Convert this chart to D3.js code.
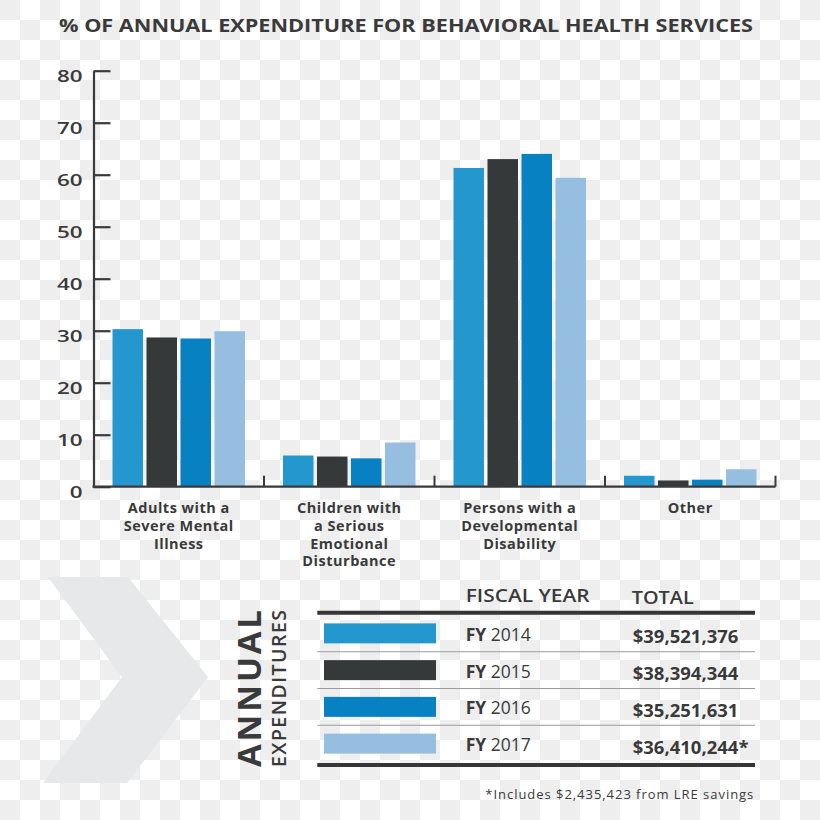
<!DOCTYPE html>
<html>
<head>
<meta charset="utf-8">
<script src="https://cdn.jsdelivr.net/npm/d3@7"></script>
<style>
  html, body { margin: 0; padding: 0; background: #fff; }
  svg { display: block; }
  text { font-family: "Open Sans", "Noto Sans", sans-serif; fill: #3a3a3a; }
</style>
</head>
<body>
<svg id="chart" width="820" height="820"></svg>
<script>
// ---- data ----
const categories = ["Adults with a Severe Mental Illness", "Children with a Serious Emotional Disturbance", "Persons with a Developmental Disability", "Other"];
const categoryLines = [
  ["Adults with a", "Severe Mental", "Illness"],
  ["Children with", "a Serious", "Emotional", "Disturbance"],
  ["Persons with a", "Developmental", "Disability"],
  ["Other"]
];
const years = ["2014", "2015", "2016", "2017"];
const values2014 = [30.3, 6.0, 61.3, 2.1];
const values2015 = [28.7, 5.8, 63.0, 1.2];
const values2016 = [28.5, 5.45, 64.0, 1.35];
const values2017 = [29.9, 8.5, 59.4, 3.35];
const seriesValues = [values2014, values2015, values2016, values2017];
const yTicks = [0, 10, 20, 30, 40, 50, 60, 70, 80];
const totals = ["$39,521,376", "$38,394,344", "$35,251,631", "$36,410,244*"];
const colors = ["#2597cf", "#36393a", "#0781c2", "#96bee1"];
const title = "% OF ANNUAL EXPENDITURE FOR BEHAVIORAL HEALTH SERVICES";
const footnote = "*Includes $2,435,423 from LRE savings";

const svg = d3.select("#chart");

// ---- checkerboard background ----
const defs = svg.append("defs");
const pat = defs.append("pattern").attr("id", "checker")
  .attr("width", 40).attr("height", 40).attr("patternUnits", "userSpaceOnUse");
pat.append("rect").attr("width", 40).attr("height", 40).attr("fill", "#ffffff");
pat.append("rect").attr("x", 0).attr("y", 0).attr("width", 20).attr("height", 20).attr("fill", "#eeeeee");
pat.append("rect").attr("x", 20).attr("y", 20).attr("width", 20).attr("height", 20).attr("fill", "#eeeeee");
svg.append("rect").attr("width", 820).attr("height", 820).attr("fill", "url(#checker)");

// ---- title ----
svg.append("text")
  .attr("x", 59).attr("y", 32.3)
  .attr("font-size", 18.5).attr("font-weight", 700)
  .attr("textLength", 694).attr("lengthAdjust", "spacingAndGlyphs")
  .text(title);

// ---- scales ----
const y = d3.scaleLinear().domain([0, 80]).range([486.7, 70.7]);
const x0 = d3.scaleBand().domain(categories).range([93.5, 775.5]).paddingInner(0).paddingOuter(0);
const x1 = d3.scaleBand().domain(years).range([19, 151.5]).paddingInner(0.103).paddingOuter(0);

// ---- bars ----
const groups = svg.append("g").selectAll("g").data(categories).join("g")
  .attr("transform", d => `translate(${x0(d)},0)`);
groups.selectAll("rect")
  .data((d, ci) => years.map((yr, si) => ({ yr, si, v: seriesValues[si][ci] })))
  .join("rect")
  .attr("x", d => x1(d.yr))
  .attr("width", x1.bandwidth())
  .attr("y", d => y(d.v))
  .attr("height", d => y(0) - y(d.v))
  .attr("fill", d => colors[d.si]);

// ---- y axis ----
const yAxis = d3.axisLeft(y).tickValues(yTicks).tickSizeInner(-17).tickSizeOuter(0).tickPadding(11);
const gy = svg.append("g").attr("transform", "translate(93.5,0)").call(yAxis);
gy.select(".domain").attr("stroke", "#3a3a3a").attr("stroke-width", 2.2);
gy.selectAll(".tick line").attr("stroke", "#3a3a3a").attr("stroke-width", 2.2);
gy.selectAll(".tick text")
  .attr("font-family", "Open Sans, Noto Sans, sans-serif")
  .attr("font-size", 16.5).attr("font-weight", 600).attr("fill", "#3a3a3a")
  .attr("dy", "0.68em")
  .attr("textLength", d => String(d).length * 12.8)
  .attr("lengthAdjust", "spacingAndGlyphs");

// ---- x axis ----
const gx = svg.append("g");
gx.append("line")
  .attr("x1", x0.range()[0] - 1).attr("x2", x0.range()[1])
  .attr("y1", y(0)).attr("y2", y(0))
  .attr("stroke", "#3a3a3a").attr("stroke-width", 2.2);
gx.selectAll("line.sep").data(categories).join("line").attr("class", "sep")
  .attr("x1", d => x0(d) + x0.bandwidth()).attr("x2", d => x0(d) + x0.bandwidth())
  .attr("y1", y(0)).attr("y2", y(0) - 11)
  .attr("stroke", "#3a3a3a").attr("stroke-width", 2);

// ---- category labels (one text per line) ----
const labG = svg.append("g").selectAll("g").data(categories).join("g");
labG.each(function(d, i) {
  const g = d3.select(this);
  categoryLines[i].forEach((line, li) => {
    g.append("text")
      .attr("text-anchor", "middle")
      .attr("font-family", "Lato, Open Sans, sans-serif")
      .attr("font-size", 14.5).attr("font-weight", 700).attr("fill", "#363636")
      .attr("letter-spacing", 0.5)
      .attr("x", x0(d) + x0.bandwidth() / 2)
      .attr("y", 513.3 + li * 17.7)
      .text(line);
  });
});

// ---- chevron ----
svg.append("polygon")
  .attr("points", "48,577 128,577 208,677 127,783 43,783 122,677")
  .attr("fill", "#e7e8e9");

// ---- ANNUAL EXPENDITURES ----
svg.append("text")
  .attr("transform", "translate(261,767) rotate(-90)")
  .attr("font-size", 33).attr("font-weight", 700).attr("fill", "#333")
  .attr("textLength", 157).attr("lengthAdjust", "spacing")
  .text("ANNUAL");
svg.append("text")
  .attr("transform", "translate(285.5,767) rotate(-90)")
  .attr("font-size", 19.5).attr("font-weight", 600).attr("fill", "#333")
  .attr("textLength", 157).attr("lengthAdjust", "spacing")
  .text("EXPENDITURES");

// ---- table ----
const rows = d3.scaleBand().domain(years).range([615, 762]);
const tx0 = 317.3, tx1 = 755;

svg.append("text").attr("x", 465.7).attr("y", 602.3)
  .attr("font-size", 17.5).attr("font-weight", 600).attr("fill", "#2f2f2f")
  .attr("textLength", 124).attr("lengthAdjust", "spacingAndGlyphs")
  .text("FISCAL YEAR");
svg.append("text").attr("x", 631.7).attr("y", 604.3)
  .attr("font-size", 17.5).attr("font-weight", 600).attr("fill", "#2f2f2f")
  .attr("textLength", 62).attr("lengthAdjust", "spacingAndGlyphs")
  .text("TOTAL");

// separators
svg.append("g").selectAll("line").data(years.slice(1)).join("line")
  .attr("x1", tx0).attr("x2", tx1)
  .attr("y1", d => rows(d)).attr("y2", d => rows(d))
  .attr("stroke", "#9a9a9a").attr("stroke-width", 1.2);
svg.append("line").attr("x1", tx0).attr("x2", tx1).attr("y1", 612.7).attr("y2", 612.7)
  .attr("stroke", "#353535").attr("stroke-width", 4);
svg.append("line").attr("x1", tx0).attr("x2", tx1).attr("y1", 765).attr("y2", 765)
  .attr("stroke", "#353535").attr("stroke-width", 4);

const rowG = svg.append("g").selectAll("g").data(years).join("g")
  .attr("transform", d => `translate(0,${rows(d) + rows.bandwidth() / 2})`);
rowG.append("rect")
  .attr("x", 324).attr("y", -10).attr("width", 112).attr("height", 20)
  .attr("fill", (d, i) => colors[i]);
const fy = rowG.append("text").attr("x", 465.7).attr("y", 7.5)
  .attr("font-size", 17.5).attr("fill", "#2f2f2f");
fy.append("tspan").attr("font-weight", 700).text("FY");
fy.append("tspan").attr("font-weight", 400).text(d => " " + d);
rowG.append("text").attr("x", 632.7).attr("y", 10)
  .attr("font-size", 18.5).attr("font-weight", 700).attr("fill", "#2a2a2a")
  .text((d, i) => totals[i]);

// footnote
svg.append("text").attr("x", 753.3).attr("y", 799.3)
  .attr("text-anchor", "end")
  .attr("font-size", 13).attr("font-weight", 400).attr("fill", "#3d3d3d")
  .attr("textLength", 268).attr("lengthAdjust", "spacing")
  .text(footnote);
</script>
</body>
</html>
